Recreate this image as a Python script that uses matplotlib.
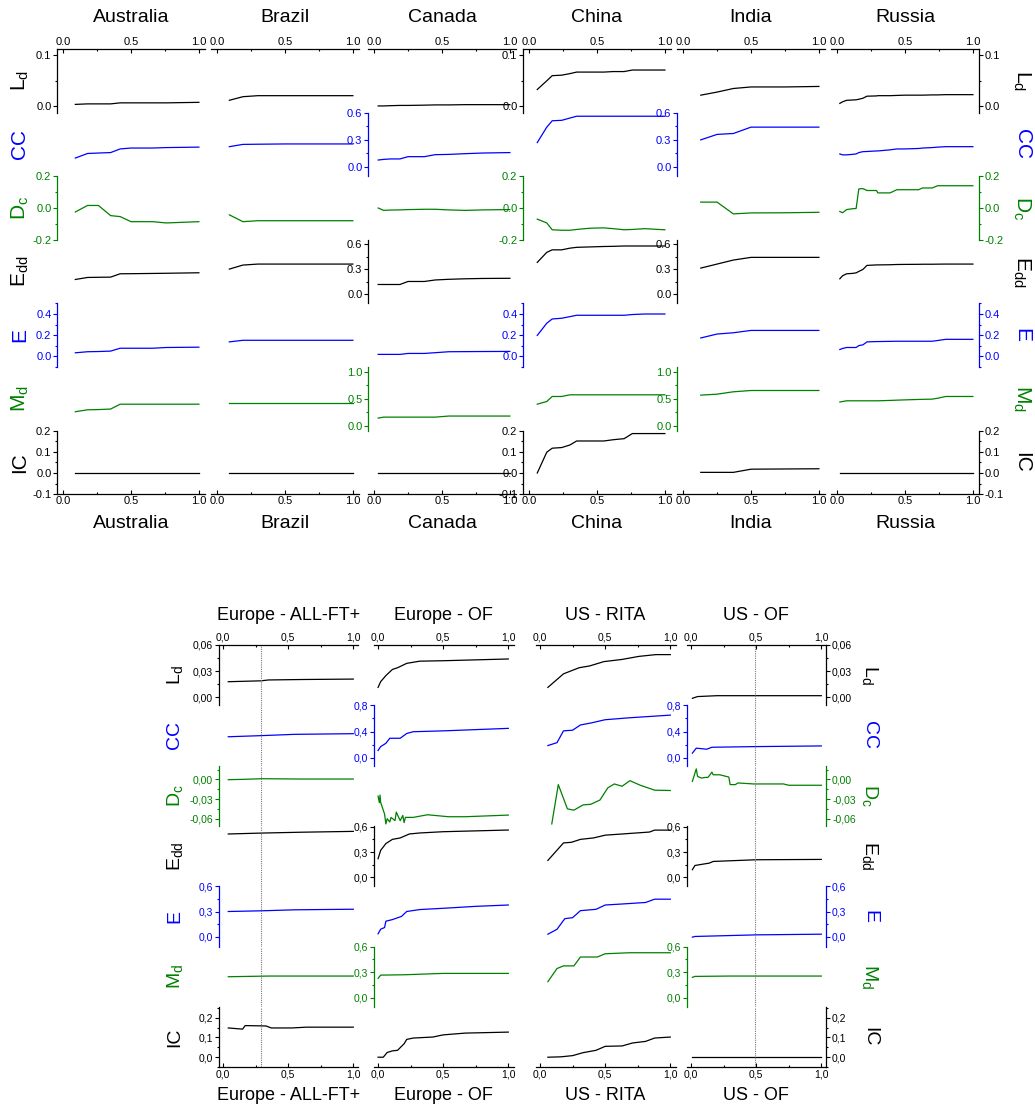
import matplotlib
matplotlib.use('Agg')
import matplotlib.pyplot as plt
from matplotlib.ticker import FixedLocator, MultipleLocator, FuncFormatter

plt.rcParams['font.family'] = ['Liberation Sans', 'DejaVu Sans']
plt.rcParams['mathtext.fontset'] = 'custom'
plt.rcParams['mathtext.rm'] = 'Liberation Sans'
plt.rcParams['mathtext.default'] = 'regular'
plt.rcParams['axes.unicode_minus'] = False

W, H = 1035, 1109

# ---------------- data: top block (one x grid per country) ----------------
top_names = ['Australia', 'Brazil', 'Canada', 'China', 'India', 'Russia']

australia_x = [0.09, 0.18, 0.26, 0.35, 0.42, 0.5, 0.66, 0.76, 1.0]
australia_ld = [0.004, 0.005, 0.005, 0.005, 0.007, 0.007, 0.007, 0.007, 0.008]
australia_cc = [0.10, 0.15, 0.155, 0.16, 0.20, 0.21, 0.21, 0.215, 0.22]
australia_dc = [-0.025, 0.016, 0.016, -0.048, -0.054, -0.086, -0.086, -0.094, -0.086]
australia_edd = [0.176, 0.20, 0.202, 0.204, 0.244, 0.245, 0.248, 0.25, 0.256]
australia_e = [0.034, 0.044, 0.046, 0.05, 0.077, 0.077, 0.077, 0.084, 0.087]
australia_md = [0.26, 0.296, 0.30, 0.31, 0.40, 0.40, 0.40, 0.40, 0.40]
australia_ic = [0.0, 0.0, 0.0, 0.0, 0.0, 0.0, 0.0, 0.0, 0.0]

brazil_x = [0.09, 0.19, 0.3, 0.5, 0.75, 1.0]
brazil_ld = [0.012, 0.019, 0.021, 0.021, 0.021, 0.021]
brazil_cc = [0.225, 0.25, 0.252, 0.255, 0.255, 0.255]
brazil_dc = [-0.043, -0.086, -0.08, -0.08, -0.08, -0.08]
brazil_edd = [0.30, 0.348, 0.36, 0.36, 0.36, 0.36]
brazil_e = [0.137, 0.152, 0.152, 0.152, 0.152, 0.152]
brazil_md = [0.43, 0.43, 0.43, 0.43, 0.43, 0.43]
brazil_ic = [0.0, 0.0, 0.0, 0.0, 0.0, 0.0]

canada_x = [0.03, 0.07, 0.12, 0.19, 0.25, 0.37, 0.45, 0.55, 0.67, 0.8, 1.0]
canada_ld = [0.001, 0.001, 0.0015, 0.002, 0.002, 0.0025, 0.003, 0.003, 0.0035, 0.0035, 0.0035]
canada_cc = [0.078, 0.085, 0.09, 0.09, 0.115, 0.115, 0.137, 0.14, 0.148, 0.155, 0.16]
canada_dc = [0.0, -0.015, -0.013, -0.012, -0.01, -0.008, -0.008, -0.012, -0.015, -0.012, -0.01]
canada_edd = [0.116, 0.116, 0.116, 0.116, 0.152, 0.152, 0.17, 0.178, 0.184, 0.188, 0.19]
canada_e = [0.019, 0.019, 0.019, 0.019, 0.028, 0.028, 0.035, 0.044, 0.045, 0.046, 0.047]
canada_md = [0.142, 0.16, 0.16, 0.16, 0.16, 0.16, 0.16, 0.18, 0.18, 0.18, 0.18]
canada_ic = [0.0, 0.0, 0.0, 0.0, 0.0, 0.0, 0.0, 0.0, 0.0, 0.0, 0.0]

china_x = [0.06, 0.13, 0.17, 0.24, 0.3, 0.35, 0.45, 0.55, 0.62, 0.7, 0.76, 0.85, 1.0]
china_ld = [0.033, 0.05, 0.06, 0.061, 0.064, 0.067, 0.067, 0.067, 0.068, 0.068, 0.071, 0.071, 0.071]
china_cc = [0.27, 0.44, 0.51, 0.515, 0.54, 0.56, 0.56, 0.56, 0.56, 0.56, 0.56, 0.56, 0.56]
china_dc = [-0.07, -0.094, -0.137, -0.14, -0.14, -0.135, -0.127, -0.125, -0.13, -0.137, -0.135, -0.13, -0.137]
china_edd = [0.38, 0.50, 0.53, 0.53, 0.55, 0.56, 0.565, 0.57, 0.572, 0.576, 0.576, 0.576, 0.576]
china_e = [0.198, 0.313, 0.353, 0.36, 0.375, 0.388, 0.388, 0.388, 0.388, 0.388, 0.395, 0.4, 0.4]
china_md = [0.40, 0.45, 0.543, 0.543, 0.574, 0.574, 0.574, 0.574, 0.574, 0.574, 0.574, 0.574, 0.574]
china_ic = [0.0, 0.098, 0.117, 0.12, 0.132, 0.151, 0.151, 0.151, 0.157, 0.162, 0.186, 0.186, 0.186]

india_x = [0.13, 0.25, 0.37, 0.5, 0.75, 1.0]
india_ld = [0.022, 0.028, 0.035, 0.038, 0.038, 0.039]
india_cc = [0.30, 0.36, 0.37, 0.44, 0.44, 0.44]
india_dc = [0.037, 0.037, -0.037, -0.031, -0.03, -0.027]
india_edd = [0.312, 0.36, 0.408, 0.44, 0.44, 0.44]
india_e = [0.174, 0.211, 0.223, 0.245, 0.245, 0.245]
india_md = [0.568, 0.586, 0.63, 0.654, 0.654, 0.654]
india_ic = [0.003, 0.003, 0.003, 0.018, 0.019, 0.02]

russia_x = [0.02, 0.04, 0.07, 0.11, 0.14, 0.16, 0.19, 0.22, 0.29, 0.3,
            0.39, 0.44, 0.5, 0.6, 0.63, 0.7, 0.74, 0.8, 1.0]
russia_ld = [0.006, 0.009, 0.012, 0.0125, 0.013, 0.014, 0.016, 0.02, 0.0205, 0.021,
             0.021, 0.0215, 0.022, 0.022, 0.022, 0.0225, 0.0225, 0.023, 0.023]
russia_cc = [0.145, 0.135, 0.135, 0.14, 0.145, 0.16, 0.17, 0.172, 0.178, 0.178,
             0.19, 0.2, 0.2, 0.205, 0.21, 0.215, 0.22, 0.225, 0.225]
russia_dc = [-0.022, -0.03, -0.01, -0.005, -0.003, 0.12, 0.122, 0.11, 0.11, 0.095,
             0.095, 0.115, 0.115, 0.115, 0.126, 0.126, 0.14, 0.14, 0.14]
russia_edd = [0.184, 0.22, 0.244, 0.248, 0.255, 0.272, 0.296, 0.344, 0.35, 0.35,
              0.352, 0.355, 0.356, 0.357, 0.358, 0.358, 0.359, 0.36, 0.36]
russia_e = [0.065, 0.075, 0.084, 0.084, 0.084, 0.102, 0.109, 0.137, 0.14, 0.14,
            0.142, 0.143, 0.143, 0.143, 0.143, 0.143, 0.15, 0.161, 0.161]
russia_md = [0.44, 0.45, 0.463, 0.463, 0.463, 0.463, 0.463, 0.463, 0.463, 0.463,
             0.47, 0.475, 0.48, 0.488, 0.49, 0.494, 0.51, 0.543, 0.543]
russia_ic = [0.002] * 19

# ---------------- data: bottom block (one x/y pair per series) ----------------
bot_names = ['Europe - ALL-FT+', 'Europe - OF', 'US - RITA', 'US - OF']

euall_ld_x = [0.04, 0.29, 0.35, 0.6, 1.0]
euall_ld_y = [0.018, 0.019, 0.020, 0.0205, 0.021]
euall_cc_x = [0.04, 0.29, 0.55, 1.0]
euall_cc_y = [0.32, 0.337, 0.357, 0.367]
euall_dc_x = [0.04, 0.15, 0.3, 0.6, 1.0]
euall_dc_y = [-0.0005, 0.0, 0.001, 0.0005, 0.0005]
euall_edd_x = [0.04, 0.3, 0.6, 1.0]
euall_edd_y = [0.514, 0.525, 0.535, 0.545]
euall_e_x = [0.04, 0.29, 0.55, 1.0]
euall_e_y = [0.30, 0.308, 0.32, 0.327]
euall_md_x = [0.04, 0.35, 1.0]
euall_md_y = [0.246, 0.254, 0.254]
euall_ic_x = [0.04, 0.15, 0.17, 0.33, 0.37, 0.53, 0.64, 1.0]
euall_ic_y = [0.148, 0.142, 0.16, 0.158, 0.148, 0.148, 0.152, 0.152]

euof_ld_x = [0.0, 0.02, 0.06, 0.11, 0.15, 0.22, 0.32, 0.5, 1.0]
euof_ld_y = [0.0115, 0.018, 0.025, 0.032, 0.034, 0.039, 0.0415, 0.042, 0.044]
euof_cc_x = [0.0, 0.02, 0.06, 0.09, 0.17, 0.22, 0.27, 0.5, 1.0]
euof_cc_y = [0.11, 0.17, 0.22, 0.297, 0.297, 0.37, 0.397, 0.41, 0.448]
euof_dc_x = [0.0, 0.01, 0.015, 0.02, 0.05, 0.06, 0.07, 0.09, 0.1, 0.13,
             0.14, 0.17, 0.19, 0.2, 0.21, 0.27, 0.38, 0.54, 0.67, 1.0]
euof_dc_y = [-0.0255, -0.0355, -0.024, -0.035, -0.053, -0.068, -0.06, -0.065, -0.058, -0.063,
             -0.05, -0.063, -0.055, -0.066, -0.058, -0.058, -0.054, -0.057, -0.057, -0.0545]
euof_edd_x = [0.0, 0.02, 0.06, 0.11, 0.17, 0.24, 0.32, 0.5, 1.0]
euof_edd_y = [0.22, 0.32, 0.40, 0.45, 0.467, 0.514, 0.526, 0.541, 0.561]
euof_e_x = [0.0, 0.02, 0.05, 0.06, 0.11, 0.18, 0.22, 0.32, 0.5, 0.75, 1.0]
euof_e_y = [0.035, 0.09, 0.11, 0.185, 0.204, 0.242, 0.30, 0.323, 0.338, 0.361, 0.377]
euof_md_x = [0.0, 0.02, 0.2, 0.5, 1.0]
euof_md_y = [0.227, 0.265, 0.269, 0.285, 0.285]
euof_ic_x = [0.0, 0.04, 0.07, 0.11, 0.15, 0.18, 0.2, 0.22, 0.27, 0.42, 0.5, 0.67, 1.0]
euof_ic_y = [0.0, 0.0, 0.024, 0.032, 0.035, 0.055, 0.068, 0.09, 0.097, 0.102, 0.113, 0.122, 0.127]

rita_ld_x = [0.06, 0.18, 0.3, 0.38, 0.49, 0.63, 0.76, 0.89, 1.0]
rita_ld_y = [0.0115, 0.027, 0.034, 0.036, 0.041, 0.0435, 0.047, 0.049, 0.049]
rita_cc_x = [0.06, 0.13, 0.18, 0.25, 0.31, 0.39, 0.5, 0.69, 1.0]
rita_cc_y = [0.186, 0.23, 0.41, 0.42, 0.50, 0.53, 0.58, 0.61, 0.65]
rita_dc_x = [0.09, 0.14, 0.21, 0.26, 0.33, 0.39, 0.46, 0.52, 0.57, 0.63, 0.69, 0.77, 0.88, 1.0]
rita_dc_y = [-0.068, -0.008, -0.045, -0.047, -0.039, -0.038, -0.0315, -0.013, -0.007,
             -0.0105, -0.002, -0.009, -0.0165, -0.017]
rita_edd_x = [0.06, 0.18, 0.24, 0.31, 0.41, 0.5, 0.63, 0.84, 0.88, 1.0]
rita_edd_y = [0.20, 0.408, 0.415, 0.45, 0.467, 0.50, 0.514, 0.537, 0.56, 0.56]
rita_e_x = [0.06, 0.13, 0.19, 0.25, 0.31, 0.43, 0.5, 0.63, 0.81, 0.88, 1.0]
rita_e_y = [0.031, 0.089, 0.215, 0.227, 0.31, 0.326, 0.377, 0.389, 0.407, 0.446, 0.446]
rita_md_x = [0.06, 0.13, 0.18, 0.26, 0.31, 0.44, 0.5, 0.69, 1.0]
rita_md_y = [0.188, 0.342, 0.373, 0.373, 0.477, 0.477, 0.515, 0.527, 0.527]
rita_ic_x = [0.06, 0.16, 0.25, 0.33, 0.43, 0.5, 0.63, 0.71, 0.81, 0.88, 1.0]
rita_ic_y = [0.0, 0.002, 0.008, 0.023, 0.035, 0.055, 0.057, 0.072, 0.08, 0.097, 0.102]

usof_ld_x = [0.01, 0.05, 0.2, 1.0]
usof_ld_y = [-0.001, 0.001, 0.002, 0.002]
usof_cc_x = [0.01, 0.04, 0.12, 0.16, 0.5, 1.0]
usof_cc_y = [0.07, 0.146, 0.13, 0.16, 0.17, 0.18]
usof_dc_x = [0.01, 0.04, 0.05, 0.08, 0.11, 0.13, 0.16, 0.17, 0.22, 0.29, 0.3, 0.34,
             0.36, 0.48, 0.71, 0.75, 1.0]
usof_dc_y = [-0.003, 0.016, 0.0045, 0.002, 0.003, 0.003, 0.011, 0.007, 0.007, 0.0035,
             -0.008, -0.008, -0.0055, -0.007, -0.007, -0.009, -0.009]
usof_edd_x = [0.01, 0.03, 0.08, 0.14, 0.17, 0.5, 1.0]
usof_edd_y = [0.09, 0.14, 0.153, 0.168, 0.188, 0.208, 0.212]
usof_e_x = [0.01, 0.03, 0.5, 1.0]
usof_e_y = [-0.004, 0.004, 0.023, 0.031]
usof_md_x = [0.01, 0.03, 0.3, 1.0]
usof_md_y = [0.239, 0.25, 0.254, 0.254]
usof_ic_x = [0.01, 1.0]
usof_ic_y = [0.0, 0.0]

# dotted marker lines in the bottom block (column index -> x)
bot_vlines = {0: 0.29, 3: 0.49}

# ---------------- row setup ----------------
rows = ['ld', 'cc', 'dc', 'edd', 'e', 'md', 'ic']
row_labels = [r'L$_d$', 'CC', r'D$_c$', r'E$_{dd}$', 'E', r'M$_d$', 'IC']
row_colors = ['black', 'blue', 'green', 'black', 'blue', 'green', 'black']

top_ylims = [(-0.012, 0.112), (-0.1, 0.6), (-0.2, 0.2), (-0.11, 0.65),
             (-0.1, 0.5), (-0.09, 1.09), (-0.1, 0.2)]
top_majors = [[0, 0.1], [0, 0.3, 0.6], [-0.2, 0, 0.2], [0, 0.3, 0.6],
              [0, 0.2, 0.4], [0, 0.5, 1.0], [-0.1, 0, 0.1, 0.2]]
top_minors = [0.05, 0.15, 0.1, 0.15, 0.1, 0.25, 0.05]
top_fmts = ['{:.1f}'] * 7

bot_ylims = [(-0.009, 0.06), (-0.12, 0.8), (-0.071, 0.021), (-0.106, 0.61),
             (-0.115, 0.6), (-0.106, 0.6), (-0.05, 0.255)]
bot_majors = [[0, 0.03, 0.06], [0, 0.4, 0.8], [-0.06, -0.03, 0.0], [0, 0.3, 0.6],
              [0, 0.3, 0.6], [0, 0.3, 0.6], [0, 0.1, 0.2]]
bot_minors = [0.015, 0.2, 0.015, 0.15, 0.15, 0.15, 0.05]
bot_fmts = ['{:.2f}', '{:.1f}', '{:.2f}', '{:.1f}', '{:.1f}', '{:.1f}', '{:.1f}']

top_series = [
    [(australia_x, v) for v in [australia_ld, australia_cc, australia_dc, australia_edd,
                                australia_e, australia_md, australia_ic]],
    [(brazil_x, v) for v in [brazil_ld, brazil_cc, brazil_dc, brazil_edd,
                             brazil_e, brazil_md, brazil_ic]],
    [(canada_x, v) for v in [canada_ld, canada_cc, canada_dc, canada_edd,
                             canada_e, canada_md, canada_ic]],
    [(china_x, v) for v in [china_ld, china_cc, china_dc, china_edd,
                            china_e, china_md, china_ic]],
    [(india_x, v) for v in [india_ld, india_cc, india_dc, india_edd,
                            india_e, india_md, india_ic]],
    [(russia_x, v) for v in [russia_ld, russia_cc, russia_dc, russia_edd,
                             russia_e, russia_md, russia_ic]],
]
bot_series = [
    [(euall_ld_x, euall_ld_y), (euall_cc_x, euall_cc_y), (euall_dc_x, euall_dc_y),
     (euall_edd_x, euall_edd_y), (euall_e_x, euall_e_y), (euall_md_x, euall_md_y),
     (euall_ic_x, euall_ic_y)],
    [(euof_ld_x, euof_ld_y), (euof_cc_x, euof_cc_y), (euof_dc_x, euof_dc_y),
     (euof_edd_x, euof_edd_y), (euof_e_x, euof_e_y), (euof_md_x, euof_md_y),
     (euof_ic_x, euof_ic_y)],
    [(rita_ld_x, rita_ld_y), (rita_cc_x, rita_cc_y), (rita_dc_x, rita_dc_y),
     (rita_edd_x, rita_edd_y), (rita_e_x, rita_e_y), (rita_md_x, rita_md_y),
     (rita_ic_x, rita_ic_y)],
    [(usof_ld_x, usof_ld_y), (usof_cc_x, usof_cc_y), (usof_dc_x, usof_dc_y),
     (usof_edd_x, usof_edd_y), (usof_e_x, usof_e_y), (usof_md_x, usof_md_y),
     (usof_ic_x, usof_ic_y)],
]

fig = plt.figure(figsize=(W / 100, H / 100), dpi=100)


def add_cell(left, top, width, height):
    ax = fig.add_axes([left / W, 1 - (top + height) / H, width / W, height / H])
    ax.patch.set_visible(False)
    for s in ax.spines.values():
        s.set_visible(False)
        s.set_linewidth(0.9)
    ax.tick_params(which='both', left=False, right=False, top=False, bottom=False,
                   labelleft=False, labelright=False, labeltop=False, labelbottom=False)
    return ax


def num_fmt(fmt, comma_dec):
    def f(v, pos):
        s = fmt.format(v)
        if s.startswith('-') and float(s) == 0:
            s = s[1:]
        return s.replace('.', ',') if comma_dec else s
    return FuncFormatter(f)


def draw_panel(names, series, lefts, width, xlim, top, row_h, ylims, majors, minors,
               fmts, comma_dec, left_axes, right_axes, tick_fs, title_fs, label_fs,
               title_y, foot_y, lab_left_x, lab_right_x, vlines):
    ncol = len(names)
    for c in range(ncol):
        for r in range(7):
            ax = add_cell(lefts[c], top + r * row_h, width, row_h)
            ax.set_xlim(xlim)
            ax.set_ylim(ylims[r])
            x, y = series[c][r]
            ax.plot(x, y, color=row_colors[r], lw=0.9)
            if c in vlines:
                ax.axvline(vlines[c], color='#777777', lw=0.8, ls=(0, (1, 1)))

            # x axes on top and bottom of each column
            if r == 0 or r == 6:
                side = 'top' if r == 0 else 'bottom'
                ax.spines[side].set_visible(True)
                ax.xaxis.set_major_locator(FixedLocator([0, 0.5, 1.0]))
                ax.xaxis.set_minor_locator(FixedLocator([0.25, 0.75]))
                ax.xaxis.set_major_formatter(num_fmt('{:.1f}', comma_dec))
                kw = {side: True, 'label' + side: True}
                ax.tick_params(axis='x', which='both', direction='in', **kw)
                ax.tick_params(axis='x', which='major', length=3, width=0.8,
                               labelsize=tick_fs, pad=1.5)
                ax.tick_params(axis='x', which='minor', length=1.5, width=0.8)

            # y axes
            sides = []
            if rows[r] in left_axes.get(c, []):
                sides.append('left')
            if c == ncol - 1 and rows[r] in right_axes:
                sides.append('right')
            if sides:
                col = row_colors[r]
                ax.yaxis.set_major_locator(FixedLocator(majors[r]))
                ax.yaxis.set_minor_locator(MultipleLocator(minors[r]))
                ax.yaxis.set_major_formatter(num_fmt(fmts[r], comma_dec))
                for side in sides:
                    ax.spines[side].set_visible(True)
                    ax.spines[side].set_color(col)
                    kw = {side: True, 'label' + side: True}
                    ax.tick_params(axis='y', which='both', direction='out', colors=col, **kw)
                ax.tick_params(axis='y', which='major', length=3, width=0.8,
                               labelsize=tick_fs, pad=1)
                ax.tick_params(axis='y', which='minor', length=1.5, width=0.8)

        # column names above and below
        cx = (lefts[c] + (0.5 - xlim[0]) / (xlim[1] - xlim[0]) * width) / W
        fig.text(cx, 1 - title_y / H, names[c], ha='center', va='center', fontsize=title_fs)
        fig.text(cx, 1 - foot_y / H, names[c], ha='center', va='center', fontsize=title_fs)

    # row labels on both sides
    for r in range(7):
        cy = 1 - (top + (r + 0.5) * row_h) / H
        fig.text(lab_left_x / W, cy, row_labels[r], rotation=90, ha='center', va='center',
                 fontsize=label_fs, color=row_colors[r])
        fig.text(lab_right_x / W, cy, row_labels[r], rotation=270, ha='center', va='center',
                 fontsize=label_fs, color=row_colors[r])


# top block
draw_panel(top_names, top_series,
           lefts=[57, 211, 368, 523, 677, 831], width=148, xlim=(-0.045, 1.045),
           top=49, row_h=63.6, ylims=top_ylims, majors=top_majors, minors=top_minors,
           fmts=top_fmts, comma_dec=False,
           left_axes={0: ['ld', 'dc', 'e', 'ic'], 2: ['cc', 'edd', 'md'],
                      3: ['ld', 'dc', 'e', 'ic'], 4: ['cc', 'edd', 'md']},
           right_axes=['ld', 'dc', 'e', 'ic'],
           tick_fs=8, title_fs=14, label_fs=15, title_y=17, foot_y=523,
           lab_left_x=20, lab_right_x=1022, vlines={})

# bottom block
draw_panel(bot_names, bot_series,
           lefts=[218.5, 373.5, 535.5, 686.5], width=140, xlim=(-0.035, 1.04),
           top=645, row_h=60.3, ylims=bot_ylims, majors=bot_majors, minors=bot_minors,
           fmts=bot_fmts, comma_dec=True,
           left_axes={0: ['ld', 'dc', 'e', 'ic'], 1: ['cc', 'edd', 'md'],
                      3: ['cc', 'edd', 'md']},
           right_axes=['ld', 'dc', 'e', 'ic'],
           tick_fs=7.5, title_fs=13, label_fs=14, title_y=615, foot_y=1095,
           lab_left_x=175, lab_right_x=870, vlines=bot_vlines)

fig.savefig('out.png', dpi=100)
